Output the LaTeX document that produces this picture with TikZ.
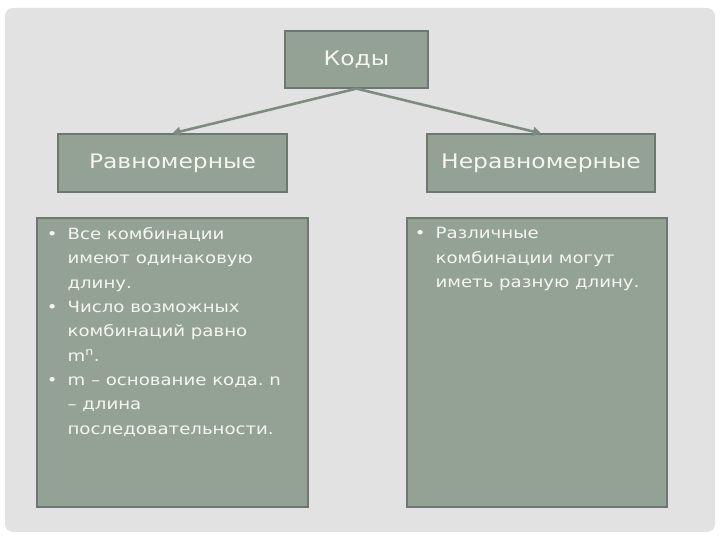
\documentclass[tikz,border=0pt]{standalone}
\usepackage{fontspec}
\setmainfont[FakeStretch=1.17]{DejaVu Sans}
\frenchspacing
\usetikzlibrary{positioning,arrows.meta}

\definecolor{panel}{HTML}{E2E2E2}
\definecolor{sage}{HTML}{94A195}
\definecolor{sageline}{HTML}{6D7970}
\definecolor{linkgray}{HTML}{7E8B81}
\definecolor{chalk}{HTML}{F5F7EF}

\tikzstyle{hdr} = [rectangle, fill=sage, draw=sageline, line width=1.2pt, text=chalk, font=\fontsize{20}{24}\selectfont]
\tikzstyle{body} = [rectangle, fill=sage, draw=sageline, line width=1.2pt, minimum height=289pt]
\tikzstyle{lst} = [text=chalk, align=left, inner sep=0pt, anchor=north west, font=\fontsize{15.5}{24.3}\selectfont]
\tikzstyle{link} = [draw=linkgray, line width=2.6pt, -{Triangle[length=8pt,width=9pt]}]
\newcommand{\bul}{\llap{\textbullet\hspace{10pt}}}

\begin{document}
\begin{tikzpicture}[x=1pt,y=1pt,node distance=103.5pt]
\useasboundingbox (0,0) rectangle (720,-540);
\fill[panel, rounded corners=8pt] (5,-8) rectangle (715,-532);

\node[hdr, minimum width=143pt, minimum height=57pt] (codes) at (356.5,-59.5) {Коды};
\node[hdr, minimum width=229pt, minimum height=58pt] (even) [below of=codes, xshift=-184pt] {Равномерные};
\node[hdr, minimum width=228pt, minimum height=58pt] (uneven) [below of=codes, xshift=184.5pt] {Неравномерные};

\node[body, minimum width=271pt] (evenBody) [below of=even, yshift=-96pt] {};
\node[body, minimum width=260pt] (unevenBody) [below of=uneven, yshift=-96pt, xshift=-4pt] {};

\node[lst] (evenText) at ([xshift=31pt, yshift=-10pt]evenBody.north west)
  {\bul Все комбинации\\ имеют одинаковую\\ длину.\\
   \bul Число возможных\\ комбинаций равно\\ m\textsuperscript{n}.\\
   \bul m – основание кода. n\\ – длина\\ последовательности.};
\node[lst] (unevenText) at ([xshift=29pt, yshift=-10pt]unevenBody.north west)
  {\bul Различные\\ комбинации могут\\ иметь разную длину.};

\draw[link] (codes.south) -- (even.north);
\draw[link] (codes.south) -- (uneven.north);

\end{tikzpicture}
\end{document}
